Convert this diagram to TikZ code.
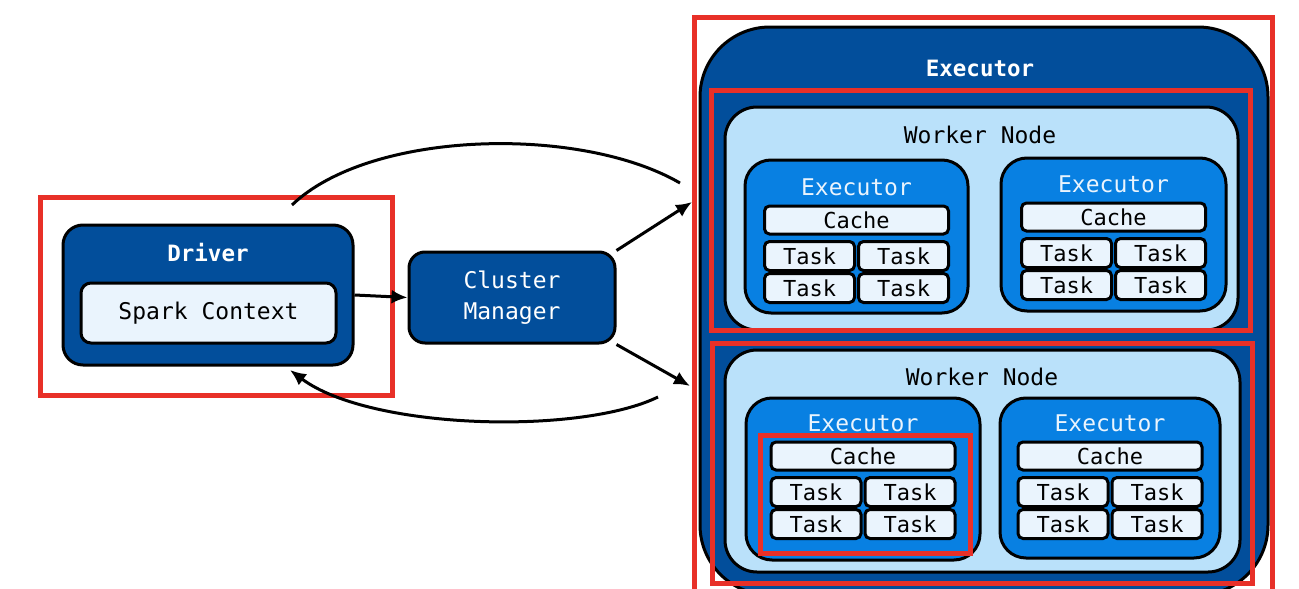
\documentclass[tikz,border=0pt]{standalone}
\usepackage{fontspec}
\setmonofont{DejaVu Sans Mono}
\usetikzlibrary{arrows.meta, positioning}
\definecolor{darkblue}{RGB}{2,78,155}
\definecolor{midblue}{RGB}{8,128,226}
\definecolor{paleblue}{RGB}{186,225,250}
\definecolor{cellfill}{RGB}{234,244,253}
\definecolor{markred}{RGB}{232,48,40}

\tikzset{
  deepbox/.style={draw=black, line width=3pt, fill=darkblue, rounded corners=20pt, inner sep=0pt},
  workerbox/.style={draw=black, line width=3pt, fill=paleblue, rounded corners=32pt, inner sep=0pt},
  execbox/.style={draw=black, line width=3pt, fill=midblue, rounded corners=26pt, inner sep=0pt},
  cellbox/.style={draw=black, line width=3pt, fill=cellfill, rounded corners=5pt, inner sep=0pt,
    font=\ttfamily\fontsize{22}{24}\selectfont},
  markbox/.style={draw=markred, line width=5pt, inner sep=0pt},
  headtext/.style={font=\ttfamily\bfseries\fontsize{22.5}{26}\selectfont, text=white},
  plaintext/.style={font=\ttfamily\fontsize{23}{26}\selectfont},
  flow/.style={line width=3pt, -{Latex[length=16pt,width=14pt]}},
}

\begin{document}
\begin{tikzpicture}[x=1pt, y=-1pt]
  \useasboundingbox (0,0) rectangle (1299,589);
  \clip (0,0) rectangle (1299,589);

  % driver side
  \node[deepbox, minimum width=290pt, minimum height=140pt] (drv) at (208,295) {};
  \node[headtext] (drvt) at (208,253) {Driver};
  \node[cellbox, plaintext, rounded corners=10pt, minimum width=255pt, minimum height=60pt] (sc) at (208.5,313) {Spark Context};
  \node[markbox, minimum width=352pt, minimum height=198pt] (drvmark) at (216,296) {};

  \node[deepbox, rounded corners=16pt, minimum width=206pt, minimum height=91pt, headtext, font=\ttfamily\fontsize{23}{31}\selectfont, align=center] (cm) at (512,297.5) {Cluster\\Manager};

  % cluster side
  \node[deepbox, rounded corners=70pt, minimum width=568pt, minimum height=568pt] (cluster) at (984,311) {};
  \node[headtext] (clustert) at (980,68) {Executor};

  \node[workerbox, minimum width=513pt, minimum height=223pt] (wn1) at (981.5,218.5) {};
  \node[plaintext] (wn1t) at (980,135) {Worker Node};
  \node[workerbox, minimum width=515pt, minimum height=222pt] (wn2) at (982.5,461) {};
  \node[plaintext] (wn2t) at (982,377) {Worker Node};

  \foreach \nm/\cx/\cy/\w/\h/\ty in {ea/856.5/236.5/223/153/187, eb/1113.5/234.5/225/153/184, ec/863/479/234/162/423, ed/1110/478/220/160/423}{
    \node[execbox, minimum width=\w pt, minimum height=\h pt] (\nm) at (\cx,\cy) {};
    \node[headtext, text=cellfill, font=\ttfamily\fontsize{23}{26}\selectfont] (\nm t) at (\cx,\ty) {Executor};
    \node[cellbox, minimum width=184pt, minimum height=28pt] (\nm c) at (\cx,\ty+33) {Cache};
    \node[cellbox, minimum width=90pt, minimum height=29pt] (\nm 1) at (\cx-47,\ty+69) {Task};
    \node[cellbox, minimum width=90pt, minimum height=29pt] (\nm 2) at (\cx+47,\ty+69) {Task};
    \node[cellbox, minimum width=90pt, minimum height=29pt] (\nm 3) at (\cx-47,\ty+101) {Task};
    \node[cellbox, minimum width=90pt, minimum height=29pt] (\nm 4) at (\cx+47,\ty+101) {Task};
  }

  % highlight frames
  \node[markbox, minimum width=578pt, minimum height=590pt] (clustermark) at (983,312) {};
  \node[markbox, minimum width=539pt, minimum height=240pt] (wn1mark) at (980.5,210) {};
  \node[markbox, minimum width=540pt, minimum height=240pt] (wn2mark) at (982,463) {};
  \node[markbox, minimum width=210pt, minimum height=118pt] (ecmark) at (865,494) {};

  % connectors
  \coordinate (upin) at (692,202);
  \coordinate (lowin) at (690,386);
  \coordinate (topend) at (680,183);
  \coordinate (backstart) at (658,397);
  \coordinate (topstart) at (292,205);
  \coordinate (backend) at (290,370);

  \draw[flow] (drv.east) -- (cm.west);
  \draw[flow] (cm.north east) -- (upin);
  \draw[flow] (cm.south east) -- (lowin);
  \draw[line width=3pt] (topstart) .. controls (370,130) and (580,125) .. (topend);
  \draw[flow] (backstart) .. controls (580,435) and (370,430) .. (backend);
\end{tikzpicture}
\end{document}
